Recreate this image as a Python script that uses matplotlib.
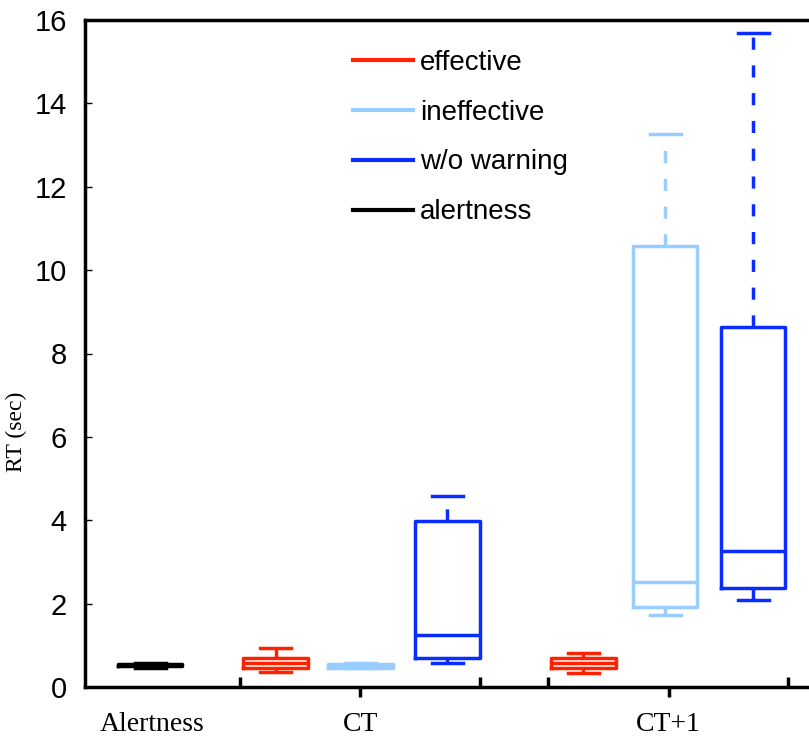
import matplotlib
matplotlib.use("Agg")
import matplotlib.pyplot as plt
from matplotlib.lines import Line2D

# box statistics (RT in seconds)
labels = ["alertness", "CT eff", "CT ineff", "CT w/o", "CT+1 eff", "CT+1 ineff", "CT+1 w/o"]
positions = [1.0, 2.46, 3.44, 4.45, 6.03, 6.98, 8.0]
whislo = [0.46, 0.36, 0.45, 0.58, 0.34, 1.73, 2.09]
q1 = [0.50, 0.46, 0.46, 0.70, 0.46, 1.92, 2.37]
med = [0.53, 0.57, 0.51, 1.25, 0.57, 2.52, 3.26]
q3 = [0.56, 0.70, 0.56, 3.98, 0.70, 10.58, 8.63]
whishi = [0.58, 0.93, 0.58, 4.58, 0.82, 13.26, 15.68]
colors = ["black", "#ff2200", "#99ccff", "#0a2cff", "#ff2200", "#99ccff", "#0a2cff"]

legend_labels = ["effective", "ineffective", "w/o warning", "alertness"]
legend_colors = ["#ff2200", "#99ccff", "#0a2cff", "black"]

group_ticks = [1.02, 3.44, 7.02]
group_labels = ["Alertness", "CT", "CT+1"]
group_edges = [2.05, 4.83, 5.62, 8.41]

fig = plt.figure(figsize=(8.09, 7.41), dpi=100)
ax = fig.add_axes([85 / 809, 1 - 687 / 741, 1 - 85 / 809, (687 - 20) / 741])

for i in range(len(labels)):
    st = {"med": med[i], "q1": q1[i], "q3": q3[i],
          "whislo": whislo[i], "whishi": whishi[i], "fliers": []}
    c = colors[i]
    ax.bxp([st], positions=[positions[i]], widths=0.75, capwidths=0.36,
           showfliers=False,
           boxprops=dict(color=c, linewidth=2.5),
           medianprops=dict(color=c, linewidth=2.5),
           whiskerprops=dict(color=c, linewidth=2.5, linestyle=(0, (3.5, 4.5))),
           capprops=dict(color=c, linewidth=2.5))

ax.set_xlim(0.245, 8.65)
ax.set_ylim(0, 16)

for s in ["left", "bottom", "top"]:
    ax.spines[s].set_linewidth(2.5)
ax.spines["right"].set_visible(False)

ax.set_yticks(range(0, 17, 2))
ax.tick_params(axis="y", direction="in", length=5, width=1, pad=13,
               labelsize=21, right=False)
for t in ax.get_yticklabels():
    t.set_family(["Liberation Sans", "DejaVu Sans"])

ax.set_xticks(group_ticks)
ax.set_xticklabels(group_labels, family="Liberation Serif", fontsize=20)
ax.tick_params(axis="x", which="major", direction="out", length=7, width=2.5, pad=11)
ax.xaxis.get_major_ticks()[0].tick1line.set_visible(False)
ax.set_xticks(group_edges, minor=True)
ax.tick_params(axis="x", which="minor", direction="in", length=7, width=2.5)

ax.set_ylabel("RT (sec)", family="Liberation Serif", fontsize=17)
ax.yaxis.set_label_coords(-0.08, 0.382)

handles = [Line2D([], [], color=c, linewidth=3) for c in legend_colors]
ax.legend(handles, legend_labels, loc="upper left", bbox_to_anchor=(0.336, 0.993),
          frameon=False, prop={"family": "Liberation Sans", "size": 20},
          handlelength=2.15, handletextpad=0.25, labelspacing=0.86)

fig.savefig("out.png", dpi=100)
